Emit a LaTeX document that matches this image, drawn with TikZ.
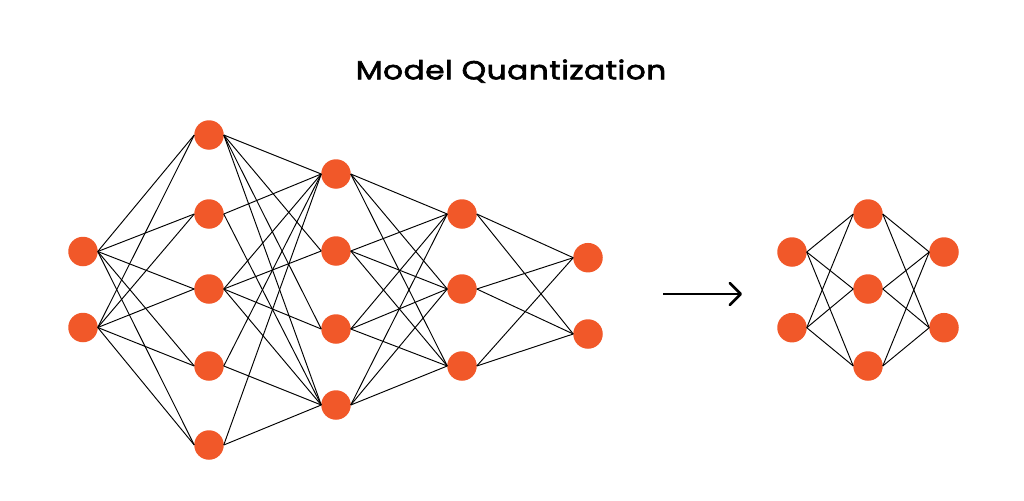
\documentclass[tikz,border=0pt]{standalone}
\usepackage{fontspec}
\setmainfont{Poppins}
\newfontfamily\titlefont{Poppins}[FakeStretch=1.2,FakeBold=2.5,LetterSpace=2]
\usetikzlibrary{arrows.meta}
\definecolor{neuroncol}{RGB}{241,88,41}
\begin{document}
\begin{tikzpicture}[x=1pt,y=-1pt,
  neuron/.style={circle,fill=neuroncol,minimum size=29.5pt,inner sep=0pt,outer sep=0pt},
  link/.style={line width=0.95pt,black},
  bigarrow/.style={line width=2.6pt,-{Straight Barb[length=11pt,width=22pt,line cap=round,line join=round]}}]
\useasboundingbox (0,0) rectangle (1024,500);
\node[anchor=base,inner sep=0pt,font=\titlefont\fontsize{26}{30}\selectfont] (title) at (511,79.3) {Model Quantization};
% big network
\foreach \y [count=\i] in {251.5,327.5} \node[neuron] (a\i) at (83,\y) {};
\foreach \y [count=\i] in {135,214,289,366,445} \node[neuron] (b\i) at (209,\y) {};
\foreach \y [count=\i] in {174,251,329,405} \node[neuron] (c\i) at (336,\y) {};
\foreach \y [count=\i] in {214,289,366} \node[neuron] (d\i) at (462,\y) {};
\foreach \y [count=\i] in {257.7,334} \node[neuron] (e\i) at (588,\y) {};
\foreach \i in {1,2} \foreach \j in {1,...,5} \draw[link] (a\i.east) -- (b\j.west);
\foreach \i in {1,3} \foreach \j in {1,...,4} \draw[link] (b\i.east) -- (c\j.west);
\foreach \i in {2,4,5} \foreach \j in {1,4} \draw[link] (b\i.east) -- (c\j.west);
\foreach \i in {1,...,4} \foreach \j in {1,...,3} \draw[link] (c\i.east) -- (d\j.west);
\foreach \i in {1,...,3} \foreach \j in {1,2} \draw[link] (d\i.east) -- (e\j.west);
% arrow
\coordinate (arrS) at (663,294);
\coordinate (arrE) at (742,294);
\draw[bigarrow] (arrS) -- (arrE);
% small network
\foreach \y [count=\i] in {252,327.7} \node[neuron] (p\i) at (792,\y) {};
\foreach \y [count=\i] in {214,289,366} \node[neuron] (q\i) at (868,\y) {};
\foreach \y [count=\i] in {252,327.7} \node[neuron] (r\i) at (944,\y) {};
\foreach \i in {1,2} \foreach \j in {1,...,3} \draw[link] (p\i.east) -- (q\j.west);
\foreach \i in {1,...,3} \foreach \j in {1,2} \draw[link] (q\i.east) -- (r\j.west);
\end{tikzpicture}
\end{document}
